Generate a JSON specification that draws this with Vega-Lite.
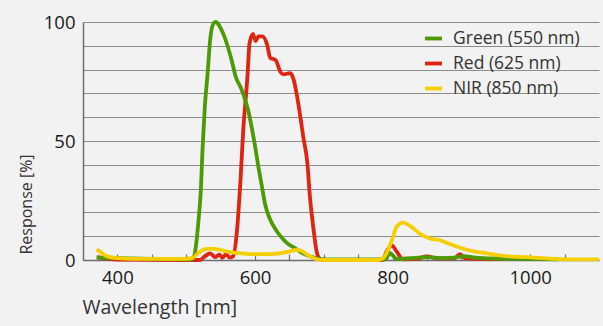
{
  "$schema": "https://vega.github.io/schema/vega-lite/v6.json",
  "width": 516,
  "height": 238,
  "autosize": {"type": "none"},
  "padding": {"left": 83, "top": 22, "right": 4, "bottom": 66},
  "background": "#f2f2f2",
  "config": {"font": "Open Sans", "view": {"stroke": null}},
  "datasets": {
    "green": [
      {"wl": 370, "r": 1}, {"wl": 400, "r": 0.8}, {"wl": 450, "r": 0.5}, {"wl": 500, "r": 0.3}, {"wl": 508, "r": 0.3},
      {"wl": 512, "r": 2}, {"wl": 515, "r": 8}, {"wl": 518, "r": 17}, {"wl": 521, "r": 28}, {"wl": 524, "r": 48},
      {"wl": 527, "r": 64}, {"wl": 531, "r": 78}, {"wl": 535, "r": 93}, {"wl": 539, "r": 99}, {"wl": 543, "r": 100},
      {"wl": 548, "r": 98.5}, {"wl": 554, "r": 95}, {"wl": 560, "r": 90}, {"wl": 566, "r": 84}, {"wl": 572, "r": 77},
      {"wl": 580, "r": 72}, {"wl": 586, "r": 67}, {"wl": 590, "r": 63}, {"wl": 595, "r": 56}, {"wl": 600, "r": 48},
      {"wl": 605, "r": 39}, {"wl": 610, "r": 31}, {"wl": 615, "r": 23}, {"wl": 622, "r": 17}, {"wl": 632, "r": 12},
      {"wl": 640, "r": 9}, {"wl": 647, "r": 7}, {"wl": 658, "r": 5}, {"wl": 668, "r": 3}, {"wl": 676, "r": 2},
      {"wl": 690, "r": 0.7}, {"wl": 700, "r": 0.3}, {"wl": 750, "r": 0.2}, {"wl": 790, "r": 0.3}, {"wl": 796, "r": 3},
      {"wl": 800, "r": 2}, {"wl": 806, "r": 0.5}, {"wl": 830, "r": 0.8}, {"wl": 850, "r": 1.2}, {"wl": 870, "r": 0.8},
      {"wl": 890, "r": 1}, {"wl": 903, "r": 1.6}, {"wl": 920, "r": 1}, {"wl": 950, "r": 0.6}, {"wl": 1000, "r": 0.4},
      {"wl": 1040, "r": 0.3}
    ],
    "red": [
      {"wl": 370, "r": 1.2}, {"wl": 385, "r": 0.6}, {"wl": 400, "r": 0.2}, {"wl": 500, "r": 0}, {"wl": 520, "r": 0},
      {"wl": 527, "r": 1.5}, {"wl": 535, "r": 2.8}, {"wl": 542, "r": 1.2}, {"wl": 548, "r": 2.2}, {"wl": 553, "r": 1},
      {"wl": 558, "r": 2.5}, {"wl": 563, "r": 1}, {"wl": 568, "r": 1.5}, {"wl": 574, "r": 13}, {"wl": 579, "r": 34},
      {"wl": 583, "r": 55}, {"wl": 589, "r": 77}, {"wl": 592, "r": 91}, {"wl": 597, "r": 95}, {"wl": 601, "r": 92},
      {"wl": 605, "r": 94}, {"wl": 611, "r": 94}, {"wl": 618, "r": 90}, {"wl": 622, "r": 85}, {"wl": 630, "r": 84},
      {"wl": 637, "r": 79}, {"wl": 641, "r": 78}, {"wl": 651, "r": 78.5}, {"wl": 656, "r": 76}, {"wl": 661, "r": 69},
      {"wl": 666, "r": 60}, {"wl": 670, "r": 52}, {"wl": 676, "r": 41}, {"wl": 680, "r": 26}, {"wl": 685, "r": 13},
      {"wl": 690, "r": 3}, {"wl": 695, "r": 0.3}, {"wl": 700, "r": 0}, {"wl": 785, "r": 0}, {"wl": 792, "r": 4},
      {"wl": 799, "r": 6}, {"wl": 806, "r": 3.5}, {"wl": 815, "r": 0.3}, {"wl": 835, "r": 0.5}, {"wl": 850, "r": 1.5},
      {"wl": 865, "r": 0.7}, {"wl": 890, "r": 0.8}, {"wl": 898, "r": 2.5}, {"wl": 905, "r": 0.8}, {"wl": 930, "r": 0.5},
      {"wl": 960, "r": 0.4}
    ],
    "nir": [
      {"wl": 370, "r": 4.5}, {"wl": 377, "r": 3}, {"wl": 385, "r": 1.5}, {"wl": 400, "r": 0.8}, {"wl": 423, "r": 0.5},
      {"wl": 500, "r": 0.5}, {"wl": 510, "r": 1}, {"wl": 516, "r": 2.5}, {"wl": 522, "r": 3.8}, {"wl": 530, "r": 4.7},
      {"wl": 540, "r": 4.7}, {"wl": 550, "r": 4.2}, {"wl": 560, "r": 3.5}, {"wl": 575, "r": 3}, {"wl": 593, "r": 2.5},
      {"wl": 620, "r": 2.5}, {"wl": 640, "r": 3}, {"wl": 650, "r": 3.6}, {"wl": 660, "r": 4.2}, {"wl": 666, "r": 4},
      {"wl": 672, "r": 3}, {"wl": 680, "r": 1.5}, {"wl": 690, "r": 0.3}, {"wl": 700, "r": 0}, {"wl": 780, "r": 0},
      {"wl": 787, "r": 1}, {"wl": 793, "r": 4}, {"wl": 799, "r": 8.4}, {"wl": 806, "r": 14}, {"wl": 815, "r": 15.7},
      {"wl": 826, "r": 14.2}, {"wl": 840, "r": 11}, {"wl": 855, "r": 9}, {"wl": 869, "r": 8.3}, {"wl": 880, "r": 7},
      {"wl": 890, "r": 6}, {"wl": 908, "r": 4.3}, {"wl": 920, "r": 3.5}, {"wl": 937, "r": 2.8}, {"wl": 961, "r": 1.7},
      {"wl": 995, "r": 1.2}, {"wl": 1033, "r": 0.5}, {"wl": 1060, "r": 0.3}, {"wl": 1100, "r": 0.3}
    ]
  },
  "encoding": {
    "x": {
      "field": "wl", "type": "quantitative",
      "scale": {"domain": [350, 1100], "nice": false, "zero": false},
      "axis": {
        "title": "Wavelength [nm]",
        "values": [400, 450, 500, 550, 600, 650, 700, 750, 800, 850, 900, 950, 1000, 1050],
        "labelExpr": "datum.value % 200 === 0 ? datum.label : ''",
        "format": "d",
        "grid": false,
        "domainColor": "#6e6e6e", "domainWidth": 1.5,
        "tickColor": "#6e6e6e", "tickSize": -6, "tickWidth": 1.2,
        "labelPadding": 14, "labelFontSize": 18.5, "labelColor": "#1a1a1a",
        "titleFontSize": 19.5, "titleFontWeight": "normal", "titleColor": "#333333",
        "titleAnchor": "start", "titleAlign": "left", "titleBaseline": "alphabetic",
        "titleX": -1, "titleY": 53
      }
    },
    "y": {
      "field": "r", "type": "quantitative",
      "scale": {"domain": [0, 100], "nice": false},
      "axis": {
        "title": "Response [%]",
        "values": [0, 10, 20, 30, 40, 50, 60, 70, 80, 90, 100],
        "labelExpr": "datum.value % 50 === 0 ? datum.label : ''",
        "grid": true, "gridColor": "#8c8c8c", "gridWidth": 1.2,
        "domainColor": "#6e6e6e", "domainWidth": 1.5,
        "ticks": false,
        "labelPadding": 8, "labelFontSize": 18.5, "labelColor": "#1a1a1a",
        "titleFontSize": 16, "titleFontWeight": "normal", "titleColor": "#333333",
        "titleAngle": 270, "titleAlign": "center", "titleBaseline": "alphabetic",
        "titleX": -52, "titleY": 182
      }
    },
    "color": {
      "field": "s", "type": "nominal",
      "scale": {"domain": ["Green (550 nm)", "Red (625 nm)", "NIR (850 nm)"], "range": ["#4e9a06", "#e02412", "#f5cf00"]},
      "legend": {
        "title": null, "orient": "none", "legendX": 340, "legendY": 6,
        "symbolType": "stroke", "symbolSize": 290, "symbolStrokeWidth": 3.8,
        "labelFontSize": 17.5, "labelColor": "#333333", "labelOffset": 9, "rowPadding": 6, "padding": 0
      }
    }
  },
  "layer": [
    {"data": {"name": "red"}, "transform": [{"calculate": "'Red (625 nm)'", "as": "s"}], "mark": {"type": "line", "strokeWidth": 3.8, "interpolate": "monotone"}},
    {"data": {"name": "green"}, "transform": [{"calculate": "'Green (550 nm)'", "as": "s"}], "mark": {"type": "line", "strokeWidth": 3.8, "interpolate": "monotone"}},
    {"data": {"name": "nir"}, "transform": [{"calculate": "'NIR (850 nm)'", "as": "s"}], "mark": {"type": "line", "strokeWidth": 3.8, "interpolate": "monotone"}}
  ]
}
